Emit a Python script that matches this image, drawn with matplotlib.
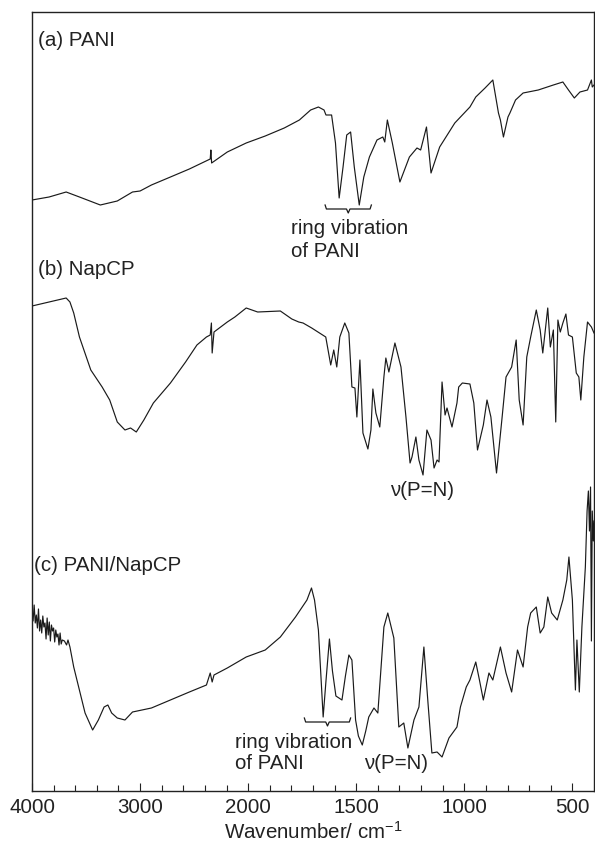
import matplotlib
matplotlib.use('Agg')
import matplotlib.pyplot as plt
import numpy as np

plt.rcParams['font.family'] = ['Liberation Sans', 'DejaVu Sans']
plt.rcParams['mathtext.default'] = 'regular'

# (a) PANI  -- wavenumber (cm-1) / transmittance (a.u., offset)
wn_a = [4000, 3842, 3684, 3561, 3368, 3211, 3070, 3000, 2895, 2719,
        2544, 2351, 2345, 2338, 2193, 2018, 1921, 1833, 1763, 1711,
        1675, 1649, 1640, 1614, 1596, 1579, 1561, 1544, 1526, 1509,
        1486, 1465, 1439, 1404, 1377, 1368, 1356, 1333, 1298, 1254,
        1219, 1202, 1175, 1154, 1114, 1044, 974, 947, 904, 868,
        842, 833, 819, 798, 789, 763, 728, 658, 588, 544,
        518, 491, 465, 430, 412, 408, 400]
t_a = [591, 594, 599, 594, 586, 590, 599, 600, 606, 614,
       622, 632, 641, 628, 639, 648, 655, 663, 671, 681,
       684, 681, 676, 676, 648, 593, 624, 656, 659, 624,
       586, 614, 634, 651, 654, 649, 671, 648, 609, 634,
       643, 641, 664, 618, 644, 668, 684, 694, 703, 711,
       678, 671, 654, 674, 678, 691, 698, 701, 706, 709,
       701, 693, 699, 701, 711, 704, 706]

# (b) NapCP
wn_b = [4000, 3842, 3684, 3649, 3614, 3561, 3456, 3351, 3281, 3211,
        3140, 3088, 3035, 2965, 2877, 2719, 2579, 2474, 2386, 2351,
        2340, 2333, 2316, 2193, 2123, 2018, 1956, 1851, 1798, 1766,
        1746, 1706, 1641, 1618, 1604, 1590, 1576, 1553, 1534, 1520,
        1506, 1497, 1483, 1469, 1446, 1432, 1423, 1409, 1391, 1372,
        1363, 1349, 1321, 1293, 1270, 1251, 1242, 1224, 1210, 1191,
        1173, 1154, 1140, 1126, 1117, 1103, 1089, 1080, 1057, 1034,
        1026, 1009, 974, 956, 939, 912, 895, 877, 851, 825,
        807, 781, 760, 746, 728, 711, 693, 667, 649, 637,
        614, 602, 588, 577, 567, 556, 544, 530, 518, 500,
        482, 470, 461, 447, 430, 412, 400]
t_b = [485, 489, 493, 489, 478, 454, 421, 404, 391, 369,
       361, 363, 359, 371, 388, 408, 429, 446, 454, 456,
       468, 438, 459, 469, 474, 483, 479, 480, 472, 469,
       468, 463, 454, 426, 441, 424, 454, 468, 458, 404,
       403, 374, 431, 358, 342, 361, 402, 378, 364, 414,
       433, 419, 448, 424, 374, 328, 334, 354, 331, 316,
       361, 351, 323, 331, 329, 409, 376, 383, 364, 388,
       404, 408, 407, 388, 341, 366, 391, 374, 318, 374,
       414, 424, 451, 391, 366, 434, 454, 481, 461, 438,
       483, 444, 461, 369, 471, 459, 468, 477, 456, 454,
       418, 414, 391, 434, 469, 464, 458]

# (c) PANI/NapCP
wn_c = [4000, 3990, 3980, 3970, 3960, 3950, 3940, 3930, 3920, 3910,
        3900, 3890, 3880, 3870, 3860, 3850, 3840, 3830, 3820, 3810,
        3800, 3790, 3780, 3770, 3760, 3750, 3740, 3730, 3720, 3700,
        3680, 3667, 3649, 3614, 3561, 3509, 3439, 3386, 3333, 3298,
        3263, 3211, 3140, 3070, 2895, 2719, 2544, 2386, 2351, 2333,
        2316, 2193, 2018, 1921, 1851, 1781, 1728, 1707, 1693, 1675,
        1653, 1640, 1624, 1610, 1594, 1580, 1566, 1550, 1534, 1520,
        1503, 1490, 1472, 1456, 1442, 1418, 1400, 1372, 1354, 1326,
        1303, 1280, 1261, 1233, 1210, 1187, 1168, 1150, 1126, 1103,
        1071, 1034, 1018, 991, 974, 947, 930, 912, 886, 868,
        833, 807, 781, 754, 728, 707, 693, 667, 649, 632,
        614, 596, 570, 544, 526, 516, 500, 486, 479, 468,
        456, 440, 432, 426, 421, 416, 412, 408, 403, 400]
t_c = [181, 170, 186, 168, 176, 163, 182, 160, 171, 158,
       175, 164, 168, 152, 173, 156, 169, 150, 166, 160,
       163, 149, 161, 154, 157, 146, 158, 147, 151, 150,
       146, 151, 144, 124, 101, 78, 61, 71, 84, 86,
       78, 73, 71, 79, 83, 91, 99, 106, 118, 109,
       116, 123, 134, 141, 154, 174, 191, 203, 191, 161,
       74, 110, 152, 120, 95, 93, 91, 115, 136, 131,
       71, 55, 46, 60, 74, 83, 78, 164, 178, 153,
       64, 68, 43, 71, 84, 144, 88, 38, 39, 34,
       53, 64, 84, 104, 111, 129, 111, 91, 118, 111,
       144, 118, 99, 141, 124, 164, 178, 184, 158, 164,
       194, 178, 171, 191, 211, 234, 191, 101, 151, 99,
       164, 224, 280, 300, 260, 304, 150, 280, 250, 270]

ticks = [4000, 3000, 2000, 1500, 1000, 500]
tick_labels = ['4000', '3000', '2000', '1500', '1000', '500']


# spectrometer-style axis: scale halves above 2000 cm-1
def fwd(w):
    w = np.asarray(w, dtype=float)
    return np.where(w >= 2000, w / 2 + 1000, w)


def inv(u):
    u = np.asarray(u, dtype=float)
    return np.where(u >= 2000, (u - 1000) * 2, u)


fig = plt.figure(figsize=(5.95, 8.43), dpi=100)
ax = fig.add_axes([32 / 595, 1 - 791 / 843, 562 / 595, 779 / 843])
ax.set_xscale('function', functions=(fwd, inv))

lc = '#1a1a1a'
for wn, t in [(wn_a, t_a), (wn_b, t_b), (wn_c, t_c)]:
    ax.plot(wn, t, color=lc, lw=0.85)

ax.set_xlim(4000, 400)
ax.set_ylim(0, 779)
ax.set_yticks([])
ax.set_xticks(ticks)
ax.set_xticklabels(tick_labels)
minor = [w for w in range(3800, 2000, -200) if w != 3000] + \
        [w for w in range(1900, 500, -100) if w not in (1500, 1000)]
ax.set_xticks(minor, minor=True)
ax.tick_params(axis='x', which='both', direction='in', width=0.8, labelsize=14.8,
               pad=5, colors='#222222')
ax.tick_params(axis='x', which='major', length=5.5)
ax.tick_params(axis='x', which='minor', length=4)
for s in ax.spines.values():
    s.set_linewidth(1.0)
    s.set_color('#222222')

ax.set_xlabel('Wavenumber/ cm$^{-1}$', fontsize=14.8, labelpad=3, color='#222222')

fs = 14.8
tc = '#222222'
ax.text(3944, 745, '(a) PANI', fontsize=fs, color=tc, va='baseline')
ax.text(3944, 516, '(b) NapCP', fontsize=fs, color=tc, va='baseline')
ax.text(3981, 220, '(c) PANI/NapCP', fontsize=fs, color=tc, va='baseline')

ax.text(1800, 557, 'ring vibration', fontsize=fs, color=tc, va='baseline')
ax.text(1800, 534, 'of PANI', fontsize=fs, color=tc, va='baseline')
ax.text(2126, 43, 'ring vibration', fontsize=fs, color=tc, va='baseline')
ax.text(2126, 22, 'of PANI', fontsize=fs, color=tc, va='baseline')

ax.text(1345, 295, 'ν(P=N)', fontsize=fs, color=tc, va='baseline')
ax.text(1465, 22, 'ν(P=N)', fontsize=fs, color=tc, va='baseline')


# curly brackets under the ring-vibration bands
def bracket(x0, x1, y):
    xm = (x0 + x1) / 2
    xs = [x0, x0 - 6, xm + 8, xm, xm - 8, x1 + 6, x1]
    ys = [y + 4, y, y, y - 4, y, y, y + 4]
    ax.plot(xs, ys, color=lc, lw=0.9)


bracket(1644, 1430, 582)
bracket(1740, 1526, 69)

plt.savefig('out.png', dpi=100)
